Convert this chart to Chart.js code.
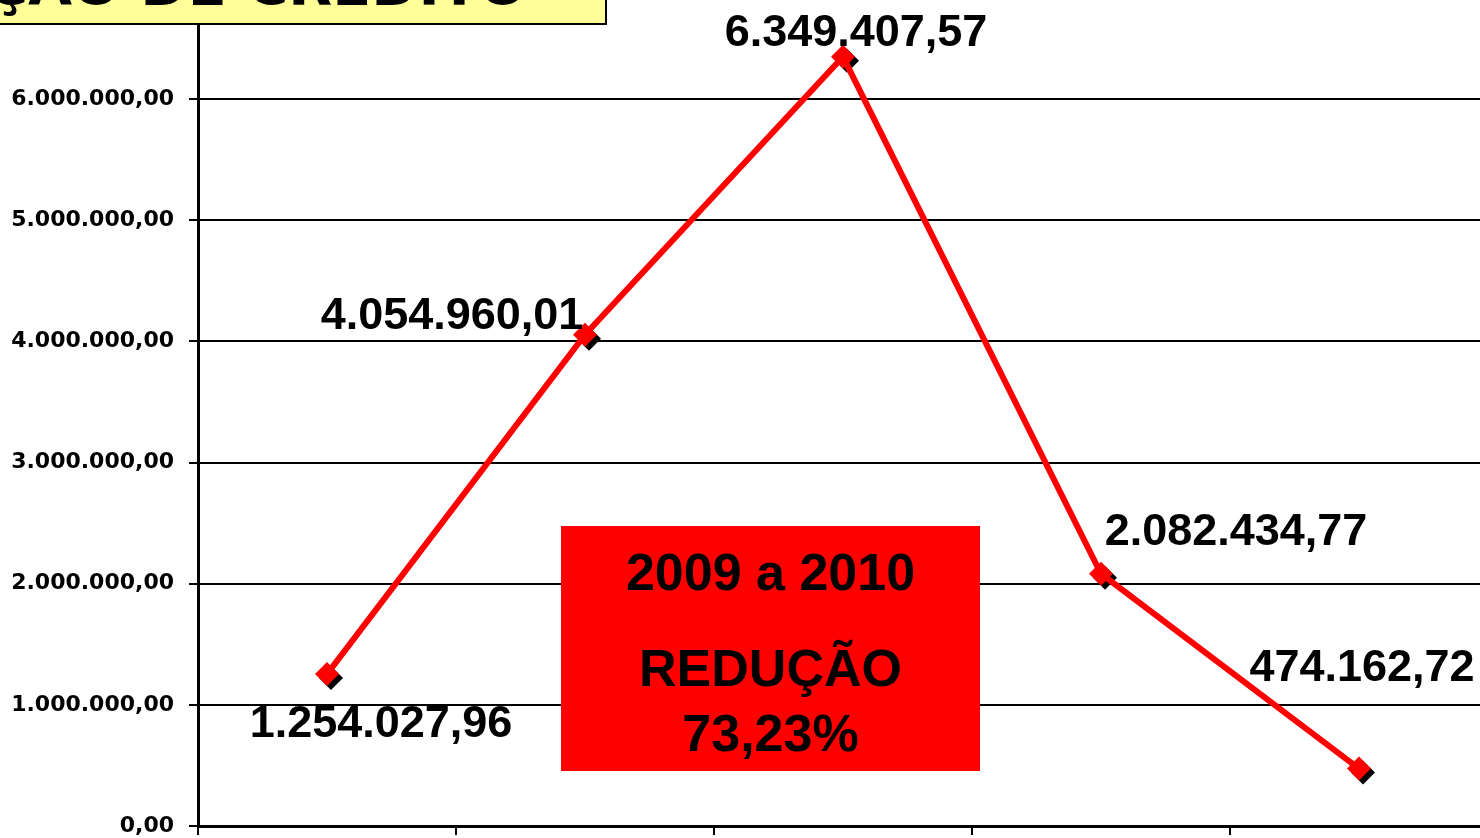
<!DOCTYPE html>
<html lang="pt-BR">
<head>
<meta charset="utf-8">
<title>Operações de crédito</title>
<script src="https://cdn.jsdelivr.net/npm/chart.js@4.4.1/dist/chart.umd.min.js"></script>
<style>
  html, body { margin: 0; padding: 0; background: #fff; overflow: hidden; }
  body { width: 1480px; height: 838px; position: relative; }
  #grafico-wrap { position: absolute; left: 0; top: -60px; width: 1500px; height: 946px; }
  #titulo {
    position: absolute; left: -10px; top: -42px; width: 613px; height: 63px;
    background: #FFFF99; border: 2px solid #000; overflow: hidden;
  }
  #titulo span {
    position: absolute; right: 78px; top: -6px; white-space: nowrap;
    font: bold 57px "DejaVu Sans", sans-serif; line-height: 62px; color: #000;
  }
  #reducao {
    position: absolute; left: 561px; top: 526px; width: 419px; height: 245px;
    background: #FF0000; color: #000; text-align: center;
    font: bold 52px "Liberation Sans", Arial, sans-serif;
  }
  #reducao div { position: absolute; left: 0; width: 100%; line-height: 60px; }
</style>
</head>
<body>
<div id="grafico-wrap"><canvas id="grafico" width="1500" height="946"></canvas></div>
<div id="titulo"><span>OPERAÇÃO DE CRÉDITO</span></div>
<div id="reducao">
  <div style="top:16px">2009 a 2010</div>
  <div style="top:112px">REDUÇÃO</div>
  <div style="top:177px">73,23%</div>
</div>
<script>
// dados do grafico
const anos = ['2006', '2007', '2008', '2009', '2010'];
const valores = [1254027.96, 4054960.01, 6349407.57, 2082434.77, 474162.72];
const rotulos = ['1.254.027,96', '4.054.960,01', '6.349.407,57', '2.082.434,77', '474.162,72'];
const ticksY = [0, 1000000, 2000000, 3000000, 4000000, 5000000, 6000000, 7000000];

// deslocamento dos rotulos em relacao ao ponto (x centro, y linha base)
const deslocRotulo = [[54, 63], [-133, -6], [13, -11], [135, -29], [3, -88]];

const formatarBR = (v) => v.toLocaleString('pt-BR', { minimumFractionDigits: 2, maximumFractionDigits: 2 });

// sombra preta atras dos marcadores
const sombraPontos = {
  id: 'sombraPontos',
  beforeDatasetsDraw(chart) {
    const ctx = chart.ctx;
    const meta = chart.getDatasetMeta(0);
    ctx.save();
    ctx.fillStyle = '#000';
    meta.data.forEach((p) => {
      const x = p.x + 4, y = p.y + 4, r = 12;
      ctx.beginPath();
      ctx.moveTo(x, y - r);
      ctx.lineTo(x + r, y);
      ctx.lineTo(x, y + r);
      ctx.lineTo(x - r, y);
      ctx.closePath();
      ctx.fill();
    });
    ctx.restore();
  }
};

// rotulos dos valores
const rotulosValores = {
  id: 'rotulosValores',
  afterDatasetsDraw(chart) {
    const ctx = chart.ctx;
    const meta = chart.getDatasetMeta(0);
    ctx.save();
    ctx.font = 'bold 45px "Liberation Sans", Arial, sans-serif';
    ctx.fillStyle = '#000';
    ctx.textAlign = 'center';
    ctx.textBaseline = 'alphabetic';
    meta.data.forEach((p, i) => {
      ctx.fillText(rotulos[i], p.x + deslocRotulo[i][0], p.y + deslocRotulo[i][1]);
    });
    ctx.restore();
  }
};

const ctx = document.getElementById('grafico');
const chart1 = new Chart(ctx, {
  type: 'line',
  data: {
    labels: anos,
    datasets: [{
      label: 'Operações de crédito',
      data: valores,
      borderColor: '#FF0000',
      borderWidth: 6,
      tension: 0,
      pointStyle: 'rectRot',
      pointRadius: 12,
      pointHoverRadius: 12,
      pointBackgroundColor: '#FF0000',
      pointBorderWidth: 0
    }]
  },
  options: {
    responsive: false,
    animation: false,
    devicePixelRatio: 1,
    clip: false,
    layout: { padding: { top: 38, right: 12, left: 0, bottom: 0 } },
    plugins: {
      legend: { display: false },
      tooltip: { enabled: false }
    },
    scales: {
      x: {
        offset: true,
        grid: { offset: true, drawOnChartArea: false, color: '#000', lineWidth: 2, tickLength: 9 },
        border: { color: '#000', width: 3 },
        ticks: { color: '#000', padding: 12, font: { family: 'Liberation Sans', size: 27, weight: 'bold' } },
        afterFit(scale) { scale.height = 60; }
      },
      y: {
        min: 0,
        max: 7000000,
        afterBuildTicks(scale) { scale.ticks = ticksY.map(v => ({ value: v })); },
        grid: { color: '#000', lineWidth: 2, tickLength: 9 },
        border: { color: '#000', width: 3 },
        ticks: {
          color: '#000',
          padding: 15,
          font: { family: 'DejaVu Sans', size: 22, weight: 'bold' },
          callback: (v) => formatarBR(v)
        },
        afterFit(scale) { scale.width = 198; }
      }
    }
  },
  plugins: [sombraPontos, rotulosValores]
});
</script>
</body>
</html>
